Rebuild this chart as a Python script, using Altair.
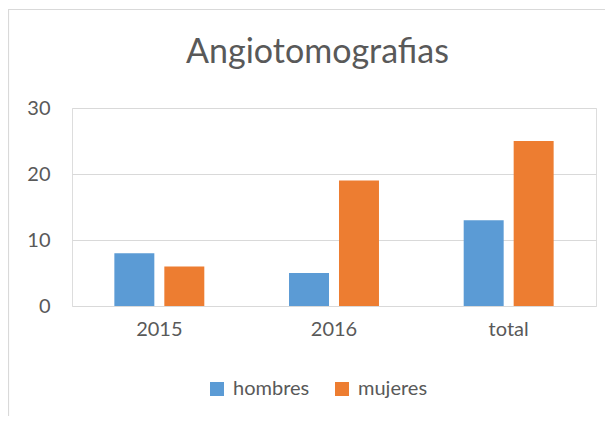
import altair as alt
import pandas as pd

categories = ["2015", "2016", "total"]
series = ["hombres", "mujeres"]
hombres = [8, 5, 13]
mujeres = [6, 19, 25]
y_ticks = [0, 10, 20, 30]
title_text = "Angiotomografias"

rows = []
for i, c in enumerate(categories):
    rows.append({"cat": c, "serie": "hombres", "valor": hombres[i]})
    rows.append({"cat": c, "serie": "mujeres", "valor": mujeres[i]})
df = pd.DataFrame(rows)

FONT = "Lato"
TXT = "#595959"
GRID = "#d9d9d9"

bars = alt.Chart(df).mark_bar().encode(
    x=alt.X("cat:N", sort=categories,
            scale=alt.Scale(paddingInner=0.485, paddingOuter=0.2425),
            axis=alt.Axis(title=None, labelAngle=0, ticks=False, domain=False,
                          labelFontSize=20, labelColor=TXT, labelFont=FONT,
                          labelPadding=13)),
    xOffset=alt.XOffset("serie:N", sort=series,
                        scale=alt.Scale(paddingInner=0.2, paddingOuter=0)),
    y=alt.Y("valor:Q", scale=alt.Scale(domain=[0, 30], nice=False),
            axis=alt.Axis(title=None, values=y_ticks, ticks=False, domain=False,
                          labelFontSize=20, labelColor=TXT, labelFont=FONT,
                          labelPadding=22, gridColor=GRID, gridWidth=1.2)),
    color=alt.Color("serie:N", sort=series,
                    scale=alt.Scale(domain=series, range=["#5B9BD5", "#ED7D31"]),
                    legend=alt.Legend(title=None, orient="none", direction="horizontal",
                                      legendX=135, legendY=271, symbolType="square",
                                      symbolSize=196, symbolStrokeWidth=0,
                                      labelFontSize=20, labelColor=TXT, labelFont=FONT,
                                      labelOffset=6, columnPadding=22, padding=0)),
)

border = alt.Chart(pd.DataFrame({"a": [0]})).mark_rect(
    fill=None, stroke=GRID, strokeWidth=1.2, clip=False
).encode(
    x=alt.value(-63.5), x2=alt.value(640),
    y=alt.value(-98.5), y2=alt.value(420),
)

title = alt.Chart(pd.DataFrame({"t": [title_text]})).mark_text(
    font=FONT, fontSize=34, color=TXT, align="center", baseline="alphabetic"
).encode(
    text="t:N", x=alt.value(245.5), y=alt.value(-45),
)

chart = alt.layer(border, bars, title).properties(
    width=524, height=198,
    autosize=alt.AutoSizeParams(type="none"),
    padding={"left": 64, "top": 100, "right": 9, "bottom": 110},
).configure_view(stroke=None).configure(background="white")

chart.save("out.html", embed_options={"renderer": "svg", "actions": False})
